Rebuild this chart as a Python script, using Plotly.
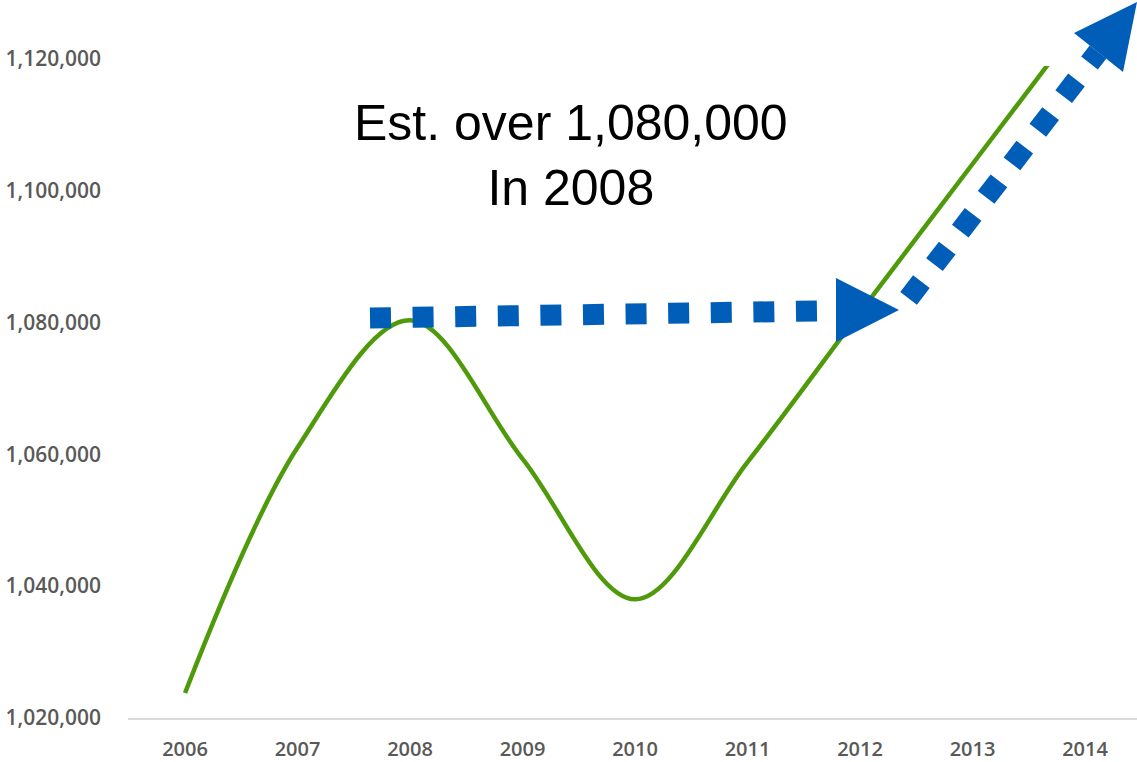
import plotly.graph_objects as go

# ---- data ----
years = ["2006", "2007", "2008", "2009", "2010", "2011", "2012", "2013", "2014"]
values = [1023800, 1061000, 1080300, 1059300, 1038000, 1058800, 1081500, 1104000, 1126500]
y_ticks = [1020000, 1040000, 1060000, 1080000, 1100000, 1120000]
note_text = "Est. over 1,080,000<br>In 2008"

# ---- layout geometry ----
W, H = 1137, 762
L, R, T, B = 128, 0, 48, 44
PW, PH = W - L - R, H - T - B


def pxx(px):
    return (px - L) / PW


def pxy(py):
    return (H - B - py) / PH


BLUE = "#005EB8"
GREEN = "#4F9A0B"

fig = go.Figure()
fig.add_trace(go.Scatter(
    x=years, y=values, mode="lines",
    line=dict(color=GREEN, width=4.5, shape="spline", smoothing=1.0),
    hoverinfo="skip", showlegend=False,
))

shapes = []
# white mask above the line end (the original line stops just under the top)
shapes.append(dict(type="rect", xref="paper", yref="paper",
                   x0=pxx(990), x1=pxx(1137), y0=pxy(66), y1=pxy(40),
                   fillcolor="white", line=dict(width=0), layer="above"))
# horizontal dotted arrow
shapes.append(dict(type="line", xref="paper", yref="paper",
                   x0=pxx(370), y0=pxy(318), x1=pxx(819), y1=pxy(311),
                   line=dict(color=BLUE, width=21, dash="21px,21.6px"), layer="above"))
shapes.append(dict(type="path", xref="paper", yref="paper",
                   path=f"M {pxx(836)},{pxy(278)} L {pxx(899)},{pxy(310)} L {pxx(836)},{pxy(342)} Z",
                   fillcolor=BLUE, line=dict(width=0), layer="above"))
# diagonal dotted arrow
shapes.append(dict(type="line", xref="paper", yref="paper",
                   x0=pxx(908.6), y0=pxy(298.3), x1=pxx(1098), y1=pxy(52),
                   line=dict(color=BLUE, width=21, dash="21px,21.4px"), layer="above"))
shapes.append(dict(type="path", xref="paper", yref="paper",
                   path=f"M {pxx(1074)},{pxy(33)} L {pxx(1137)},{pxy(2)} L {pxx(1123)},{pxy(72)} Z",
                   fillcolor=BLUE, line=dict(width=0), layer="above"))

fig.update_layout(
    width=W, height=H,
    margin=dict(l=L, r=R, t=T, b=B, autoexpand=False),
    paper_bgcolor="white", plot_bgcolor="white",
    shapes=shapes,
    annotations=[dict(
        text=note_text, xref="paper", yref="paper",
        x=pxx(571), y=pxy(155), xanchor="center", yanchor="middle",
        showarrow=False, align="center",
        font=dict(family="Liberation Sans, Arial", size=50, color="black"),
    )],
    xaxis=dict(
        type="category", range=[-0.507, 8.462],
        showgrid=False, zeroline=False, automargin=False,
        showline=True, linecolor="#D9D9D9", linewidth=1.5,
        ticks="", ticklabelstandoff=12,
        tickfont=dict(family="Open Sans", size=20, color="#595959", weight=600),
    ),
    yaxis=dict(
        range=[1020000, 1121590], automargin=False,
        tickvals=y_ticks, tickformat=",d",
        showgrid=False, zeroline=False, showline=False,
        ticks="", ticklabelstandoff=26,
        tickfont=dict(family="Open Sans", size=21, color="#595959", weight=600),
    ),
)

fig.write_html("out.html", config={"displayModeBar": False},
               post_script="document.body.style.margin='0';")
